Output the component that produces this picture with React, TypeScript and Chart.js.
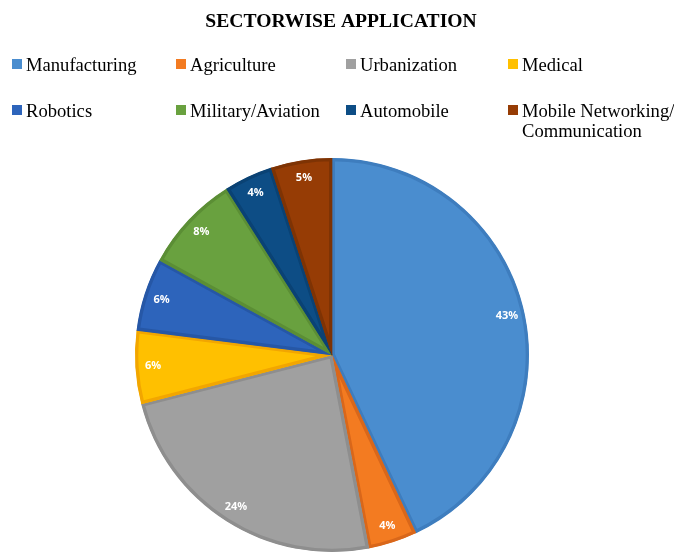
import React, { useEffect, useRef } from "react";
import { Chart, registerables } from "chart.js";

Chart.register(...registerables);

const TITLE = "SECTORWISE APPLICATION";
const categories: (string | string[])[] = [
  "Manufacturing",
  "Agriculture",
  "Urbanization",
  "Medical",
  "Robotics",
  "Military/Aviation",
  "Automobile",
  ["Mobile Networking/", "Communication"],
];
const shares = [43, 4, 24, 6, 6, 8, 4, 5];
const fillColors = [
  "#4A8DCF",
  "#F37B21",
  "#A0A0A0",
  "#FFC000",
  "#2D64BB",
  "#69A13F",
  "#0D4D85",
  "#963C05",
];
const edgeColors = [
  "#3E7DBE",
  "#D9671A",
  "#8E8E8E",
  "#F2A600",
  "#2657A6",
  "#5B8E35",
  "#0A4274",
  "#7E3304",
];

const legendColumnsX = [12, 176, 346, 508];
const legendRowsBaseline = [71, 117];

const overlayPlugin = {
  id: "overlay",
  afterDatasetsDraw(chart: any) {
    const ctx = chart.ctx as CanvasRenderingContext2D;
    const meta = chart.getDatasetMeta(0);
    const values = chart.data.datasets[0].data as number[];
    ctx.save();
    ctx.fillStyle = "#FFFFFF";
    ctx.font = "bold 11px 'Open Sans', 'Liberation Sans', sans-serif";
    ctx.textAlign = "center";
    ctx.textBaseline = "middle";
    meta.data.forEach((arc: any, i: number) => {
      const p = arc.getProps(["x", "y", "startAngle", "endAngle", "outerRadius"], true);
      const mid = (p.startAngle + p.endAngle) / 2;
      const r = p.outerRadius * 0.91;
      ctx.fillText(values[i] + "%", p.x + Math.cos(mid) * r, p.y + Math.sin(mid) * r);
    });
    ctx.restore();
  },
  afterDraw(chart: any) {
    const ctx = chart.ctx as CanvasRenderingContext2D;
    ctx.save();
    // title
    ctx.fillStyle = "#000000";
    ctx.font = "bold 19.6px 'Liberation Serif', 'Times New Roman', serif";
    ctx.textAlign = "center";
    ctx.textBaseline = "alphabetic";
    ctx.fillText(TITLE, 341, 27);
    // legend
    const labels = chart.data.labels as (string | string[])[];
    const colors = chart.data.datasets[0].backgroundColor as string[];
    ctx.font = "18.6px 'Liberation Serif', 'Times New Roman', serif";
    ctx.textAlign = "left";
    labels.forEach((lab, i) => {
      const col = i % 4;
      const row = Math.floor(i / 4);
      const x = legendColumnsX[col];
      const base = legendRowsBaseline[row];
      ctx.fillStyle = colors[i];
      ctx.fillRect(x, base - 12, 10, 10);
      ctx.fillStyle = "#000000";
      const lines = Array.isArray(lab) ? lab : [lab];
      lines.forEach((ln, k) => {
        ctx.fillText(ln, x + 14, base + k * 20);
      });
    });
    ctx.restore();
  },
};

export default function App() {
  const canvasRef = useRef<HTMLCanvasElement | null>(null);
  useEffect(() => {
    document.body.style.margin = "0";
    const canvas = canvasRef.current;
    if (!canvas) return;
    const chart = new Chart(canvas, {
      type: "pie",
      data: {
        labels: categories,
        datasets: [
          {
            data: shares,
            backgroundColor: fillColors,
            borderColor: edgeColors,
            borderWidth: 3,
            borderAlign: "inner",
          },
        ],
      },
      options: {
        responsive: false,
        animation: false,
        events: [],
        radius: 197,
        layout: { padding: { left: 0, right: 10, top: 155, bottom: 0 } },
        plugins: {
          legend: { display: false },
          title: { display: false },
          tooltip: { enabled: false },
        },
      } as any,
      plugins: [overlayPlugin],
    });
    return () => chart.destroy();
  }, []);
  return (
    <div style={{ position: "absolute", left: 0, top: 0, width: 674, height: 555, background: "#fff" }}>
      <canvas ref={canvasRef} width={674} height={555} />
    </div>
  );
}
